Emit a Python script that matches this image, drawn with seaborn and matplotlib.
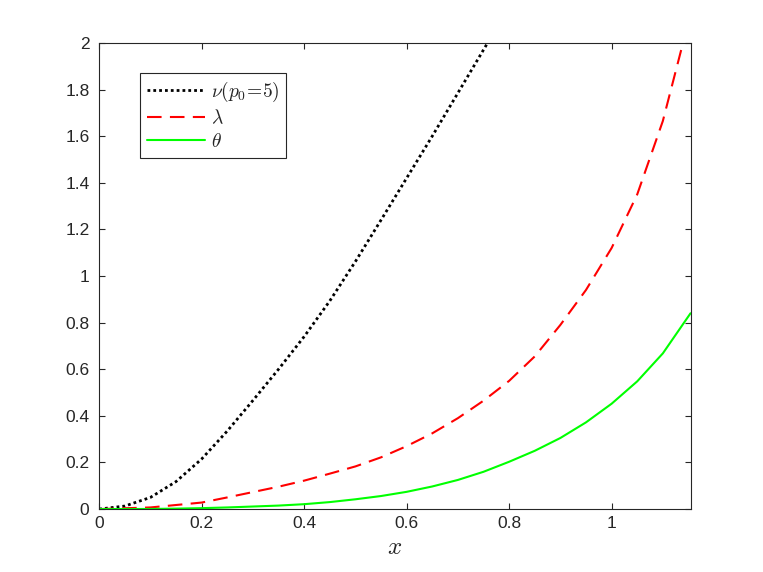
import numpy as np
import matplotlib
matplotlib.use("Agg")
import matplotlib.pyplot as plt
from matplotlib.ticker import FuncFormatter
import seaborn as sns

# values
nu_x = [0, 0.05, 0.1, 0.15, 0.2, 0.25, 0.3, 0.35, 0.4, 0.45, 0.5, 0.55, 0.6, 0.65, 0.7, 0.758]
nu_y = [0, 0.013, 0.05, 0.118, 0.215, 0.335, 0.466, 0.600, 0.740, 0.893, 1.062, 1.240, 1.420, 1.600, 1.785, 2.0]

lam_x = [0, 0.1, 0.2, 0.25, 0.3, 0.35, 0.4, 0.45, 0.5, 0.55, 0.6, 0.65, 0.7, 0.75, 0.8,
         0.85, 0.9, 0.95, 1.0, 1.05, 1.1, 1.137]
lam_y = [0, 0.007, 0.028, 0.05, 0.073, 0.096, 0.122, 0.152, 0.183, 0.222, 0.27, 0.325, 0.39, 0.465, 0.55,
         0.655, 0.79, 0.94, 1.12, 1.35, 1.665, 1.98]

th_x = [0, 0.1, 0.15, 0.2, 0.25, 0.3, 0.35, 0.4, 0.45, 0.5, 0.55, 0.6, 0.65, 0.7, 0.75, 0.8,
        0.85, 0.9, 0.95, 1.0, 1.05, 1.1, 1.154]
th_y = [0, 0.0005, 0.002, 0.004, 0.007, 0.011, 0.015, 0.021, 0.03, 0.042, 0.056, 0.074, 0.097, 0.125,
        0.16, 0.203, 0.25, 0.305, 0.372, 0.452, 0.548, 0.668, 0.84]

x_ticks = [0, 0.2, 0.4, 0.6, 0.8, 1]
y_ticks = [0, 0.2, 0.4, 0.6, 0.8, 1, 1.2, 1.4, 1.6, 1.8, 2]

sns.set_theme(style="ticks")
plt.rcParams["font.family"] = ["Liberation Sans", "DejaVu Sans"]
plt.rcParams["mathtext.fontset"] = "cm"

fig = plt.figure(figsize=(7.63, 5.72), dpi=100)
ax = fig.add_axes([0.13, 0.11, 0.775, 0.815])

sns.lineplot(x=nu_x, y=nu_y, ax=ax, color="black", lw=2.0,
             linestyle=(0, (1, 1.1)), label=r"$\nu(p_0\!=\!5)$")
sns.lineplot(x=lam_x, y=lam_y, ax=ax, color="#ff0000", lw=1.5,
             linestyle=(0, (7, 4)), label=r"$\lambda$")
sns.lineplot(x=th_x, y=th_y, ax=ax, color="#00ff00", lw=1.5,
             linestyle="-", label=r"$\theta$")

ax.set_xlim(0, 1.154)
ax.set_ylim(0, 2)
ax.set_xticks(x_ticks)
ax.set_yticks(y_ticks)
fmt = FuncFormatter(lambda v, p: "%g" % v)
ax.xaxis.set_major_formatter(fmt)
ax.yaxis.set_major_formatter(fmt)

ax.tick_params(direction="in", length=4, width=0.8, colors="#262626",
               labelsize=12.5, top=True, right=True)
ax.tick_params(axis="y", pad=7)
ax.tick_params(axis="x", pad=5)
for s in ax.spines.values():
    s.set_color("#262626")
    s.set_linewidth(0.8)
    s.set_visible(True)

ax.set_xlabel(r"$x$", fontsize=18, labelpad=3)
ax.set_ylabel("")

leg = ax.legend(loc="upper left", bbox_to_anchor=(0.069, 0.936), borderaxespad=0,
                fancybox=False, edgecolor="#262626", framealpha=1, fontsize=14,
                handlelength=3.0, borderpad=0.35, labelspacing=0.28, handletextpad=0.3)
leg.get_frame().set_linewidth(0.8)

fig.savefig("out.png", dpi=100)
